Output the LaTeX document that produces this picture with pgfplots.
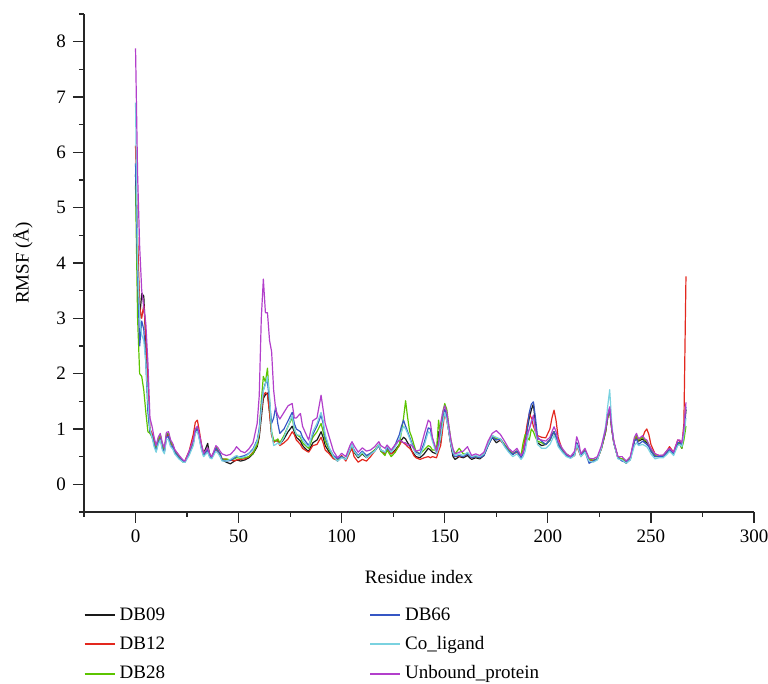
\documentclass[border=0pt]{standalone}
\usepackage{fontspec}
\setmainfont{Liberation Serif}
\usepackage{pgfplots}
\usepackage{pgfplotstable}
\pgfplotsset{compat=1.18}
\definecolor{dbblack}{HTML}{1A1A1A}
\definecolor{dbred}{HTML}{E3281E}
\definecolor{dbgreen}{HTML}{5CC400}
\definecolor{dbblue}{HTML}{3556C4}
\definecolor{dbcyan}{HTML}{7AD2E0}
\definecolor{dbpurple}{HTML}{B23FCB}
\pgfplotstableread{
x DB09 DB12 DB28 DB66 CoL Unb
0 5.6 6.12 5.4 5.8 6.9 7.88
1 4.2 4.5 3.0 3.8 4.0 5.6
2 3.0 3.2 2.0 2.5 3.0 4.3
3 3.45 3.0 1.95 2.95 2.7 3.5
4 3.4 3.25 1.7 2.8 2.6 3.2
5 2.6 2.7 1.3 2.2 2.2 2.9
6 1.5 1.8 0.95 1.3 1.5 2.2
7 0.95 1.0 0.92 0.95 1.0 1.2
8 0.9 0.92 0.85 0.88 0.85 1.05
9 0.75 0.78 0.75 0.72 0.68 0.85
10 0.62 0.65 0.65 0.6 0.58 0.7
11 0.8 0.82 0.8 0.75 0.72 0.85
12 0.88 0.86 0.9 0.82 0.8 0.92
13 0.68 0.7 0.72 0.65 0.62 0.75
14 0.6 0.62 0.62 0.58 0.55 0.66
15 0.88 0.86 0.92 0.85 0.82 0.94
16 0.9 0.88 0.92 0.86 0.8 0.95
17 0.75 0.74 0.78 0.7 0.68 0.8
18 0.72 0.7 0.7 0.68 0.64 0.74
19 0.6 0.62 0.6 0.58 0.55 0.63
21 0.5 0.52 0.5 0.48 0.46 0.53
23 0.42 0.42 0.4 0.42 0.4 0.44
24 0.41 0.43 0.41 0.4 0.4 0.42
26 0.58 0.6 0.57 0.55 0.52 0.6
28 0.78 0.9 0.75 0.72 0.7 0.8
29 0.98 1.12 0.98 0.95 0.92 1.0
30 1.02 1.16 1.02 1.0 0.96 1.05
31 0.85 0.95 0.85 0.82 0.8 0.9
32 0.68 0.72 0.66 0.64 0.62 0.72
33 0.55 0.56 0.52 0.52 0.5 0.56
35 0.74 0.62 0.65 0.62 0.58 0.66
36 0.52 0.55 0.5 0.5 0.48 0.55
37 0.5 0.5 0.48 0.48 0.46 0.5
39 0.66 0.62 0.68 0.65 0.6 0.7
40 0.6 0.58 0.62 0.6 0.56 0.66
41 0.52 0.55 0.55 0.56 0.5 0.6
42 0.44 0.46 0.45 0.44 0.42 0.55
44 0.4 0.45 0.46 0.42 0.42 0.52
46 0.37 0.44 0.44 0.43 0.45 0.54
48 0.42 0.42 0.46 0.48 0.5 0.62
49 0.44 0.44 0.48 0.5 0.52 0.68
51 0.42 0.45 0.47 0.5 0.48 0.6
53 0.44 0.46 0.48 0.52 0.5 0.57
55 0.48 0.5 0.5 0.56 0.55 0.64
57 0.55 0.58 0.56 0.64 0.62 0.75
59 0.68 0.72 0.72 0.8 0.78 1.1
60 0.85 0.9 0.95 1.0 0.95 1.6
61 1.2 1.3 1.5 1.4 1.35 3.0
62 1.55 1.6 1.95 1.7 1.7 3.71
63 1.62 1.66 1.85 1.83 1.8 3.1
64 1.65 1.62 2.1 1.85 1.95 3.1
65 1.3 1.3 1.5 1.5 1.6 2.6
66 0.9 0.9 0.95 1.1 0.95 2.4
67 0.78 0.75 0.8 1.2 0.7 1.7
68 0.78 0.8 0.78 1.4 0.72 1.35
69 0.8 0.78 0.82 1.1 0.75 1.25
70 0.72 0.7 0.75 0.92 0.72 1.18
72 0.82 0.75 0.88 1.0 0.85 1.3
74 0.95 0.82 1.05 1.15 1.05 1.42
76 1.05 0.95 1.2 1.3 1.25 1.46
77 0.95 0.9 1.0 1.1 1.0 1.2
78 0.85 0.8 0.9 1.0 0.9 1.2
80 0.78 0.72 0.85 0.95 0.88 1.28
81 0.7 0.65 0.75 0.85 0.8 1.05
83 0.62 0.6 0.68 0.75 0.7 0.88
84 0.6 0.58 0.65 0.7 0.68 0.8
86 0.75 0.7 0.85 0.9 0.95 1.15
88 0.8 0.72 0.95 1.05 1.1 1.2
90 0.95 0.85 1.1 1.25 1.3 1.61
91 0.85 0.75 0.95 1.1 1.15 1.35
92 0.7 0.62 0.78 0.85 0.9 1.1
94 0.58 0.55 0.62 0.65 0.66 0.85
96 0.48 0.46 0.5 0.52 0.5 0.6
98 0.42 0.45 0.45 0.46 0.42 0.48
100 0.5 0.52 0.5 0.5 0.48 0.56
102 0.45 0.42 0.45 0.45 0.45 0.5
104 0.6 0.58 0.62 0.62 0.62 0.7
105 0.7 0.65 0.7 0.72 0.72 0.77
106 0.58 0.5 0.6 0.62 0.6 0.7
108 0.48 0.4 0.5 0.52 0.5 0.58
110 0.55 0.45 0.56 0.6 0.58 0.66
112 0.48 0.42 0.5 0.52 0.48 0.6
114 0.55 0.5 0.56 0.56 0.54 0.62
116 0.62 0.6 0.62 0.6 0.6 0.68
118 0.7 0.72 0.72 0.7 0.72 0.77
119 0.6 0.62 0.6 0.62 0.62 0.7
121 0.55 0.55 0.52 0.58 0.58 0.65
122 0.68 0.66 0.62 0.66 0.7 0.71
124 0.55 0.55 0.5 0.58 0.58 0.62
126 0.62 0.6 0.58 0.72 0.68 0.72
128 0.72 0.7 0.72 0.9 0.82 0.8
129 0.8 0.78 0.95 1.05 0.95 0.78
130 0.85 0.75 1.2 1.16 1.05 0.75
131 0.82 0.72 1.51 1.05 1.0 0.75
132 0.75 0.68 1.2 0.95 0.92 0.7
133 0.7 0.65 0.95 0.85 0.82 0.72
134 0.6 0.6 0.85 0.75 0.72 0.7
135 0.55 0.52 0.72 0.65 0.62 0.65
136 0.5 0.48 0.6 0.58 0.55 0.6
138 0.48 0.45 0.55 0.55 0.52 0.62
140 0.55 0.48 0.62 0.75 0.7 0.9
142 0.65 0.5 0.7 1.02 0.95 1.16
143 0.62 0.48 0.68 1.0 0.92 1.12
144 0.58 0.5 0.62 0.82 0.78 0.85
146 0.55 0.48 0.62 0.6 0.55 0.6
147 0.95 0.6 1.16 0.72 0.65 0.75
148 0.75 0.7 0.85 0.9 0.85 1.1
149 1.1 1.0 1.3 1.15 1.1 1.3
150 1.35 1.3 1.46 1.35 1.3 1.42
151 1.2 1.15 1.35 1.2 1.15 1.3
152 0.95 0.95 1.05 0.95 0.95 1.05
153 0.7 0.72 0.8 0.72 0.72 0.8
154 0.5 0.58 0.62 0.55 0.58 0.64
155 0.45 0.5 0.55 0.5 0.52 0.55
157 0.5 0.5 0.65 0.52 0.55 0.58
159 0.48 0.5 0.55 0.5 0.52 0.6
161 0.52 0.55 0.55 0.55 0.58 0.68
163 0.45 0.48 0.5 0.48 0.5 0.52
165 0.48 0.5 0.5 0.5 0.52 0.55
167 0.46 0.48 0.48 0.48 0.5 0.52
169 0.52 0.55 0.55 0.52 0.55 0.58
171 0.7 0.72 0.72 0.7 0.72 0.78
173 0.85 0.88 0.88 0.85 0.88 0.92
175 0.75 0.82 0.82 0.8 0.85 0.97
177 0.8 0.8 0.82 0.82 0.82 0.9
179 0.7 0.7 0.72 0.7 0.68 0.78
181 0.6 0.62 0.62 0.6 0.58 0.65
183 0.54 0.55 0.56 0.54 0.5 0.58
185 0.6 0.58 0.6 0.6 0.55 0.65
187 0.5 0.5 0.52 0.48 0.45 0.52
188 0.55 0.62 0.75 0.55 0.5 0.58
189 0.8 0.85 0.9 0.7 0.6 0.75
190 1.0 1.1 0.85 1.0 0.8 0.9
191 1.2 1.28 0.8 1.3 1.0 1.0
192 1.35 1.2 1.0 1.45 1.15 1.12
193 1.45 1.05 0.95 1.49 1.2 1.25
194 1.1 0.95 0.85 1.2 0.95 1.0
195 0.75 0.88 0.78 0.85 0.72 0.82
197 0.7 0.85 0.75 0.78 0.65 0.8
199 0.72 0.84 0.72 0.72 0.65 0.78
201 0.8 1.0 0.8 0.8 0.72 0.85
202 0.9 1.2 0.88 0.88 0.8 0.95
203 0.95 1.34 0.95 0.95 0.88 1.04
204 0.85 1.15 0.85 0.85 0.8 0.95
205 0.72 0.85 0.75 0.72 0.68 0.78
207 0.6 0.62 0.62 0.6 0.58 0.65
209 0.52 0.52 0.55 0.52 0.5 0.55
211 0.48 0.48 0.5 0.48 0.47 0.5
213 0.55 0.52 0.55 0.55 0.52 0.6
214 0.75 0.7 0.72 0.75 0.72 0.86
215 0.65 0.6 0.62 0.65 0.62 0.75
216 0.52 0.5 0.52 0.52 0.5 0.55
218 0.62 0.6 0.62 0.6 0.58 0.65
220 0.45 0.45 0.45 0.38 0.42 0.47
222 0.42 0.42 0.44 0.42 0.4 0.46
224 0.45 0.46 0.46 0.46 0.44 0.5
226 0.65 0.65 0.65 0.66 0.66 0.7
228 0.95 0.95 0.95 0.98 1.05 1.0
229 1.2 1.2 1.2 1.22 1.4 1.25
230 1.35 1.35 1.35 1.38 1.71 1.4
231 1.0 1.0 1.0 1.02 1.1 1.02
232 0.75 0.75 0.75 0.75 0.75 0.78
234 0.48 0.48 0.48 0.48 0.46 0.5
236 0.45 0.46 0.46 0.42 0.44 0.5
238 0.38 0.42 0.4 0.4 0.38 0.42
240 0.45 0.48 0.48 0.45 0.44 0.5
242 0.78 0.8 0.82 0.78 0.7 0.85
243 0.85 0.85 0.88 0.82 0.75 0.92
244 0.78 0.8 0.8 0.72 0.7 0.82
246 0.82 0.85 0.85 0.78 0.72 0.88
247 0.78 0.95 0.8 0.75 0.7 0.82
248 0.75 1.0 0.78 0.72 0.68 0.8
249 0.7 0.9 0.72 0.68 0.62 0.72
250 0.6 0.72 0.62 0.6 0.55 0.65
252 0.5 0.55 0.52 0.5 0.46 0.55
254 0.5 0.52 0.5 0.5 0.48 0.52
256 0.5 0.52 0.52 0.5 0.48 0.53
258 0.58 0.62 0.6 0.58 0.55 0.62
259 0.62 0.68 0.6 0.62 0.6 0.65
261 0.55 0.58 0.55 0.55 0.52 0.58
263 0.72 0.8 0.75 0.75 0.7 0.8
264 0.75 0.78 0.72 0.76 0.72 0.8
265 0.65 0.7 0.65 0.7 0.68 0.75
266 0.9 1.1 0.8 0.95 0.9 1.0
267 1.35 3.76 1.05 1.4 1.2 1.48
}\rmsf
\begin{document}
\begin{tikzpicture}
\begin{axis}[
  name=ax,
  scale only axis,
  width=335pt, height=249pt,
  xmin=-25, xmax=300, ymin=-0.5, ymax=8.5,
  axis x line=bottom, axis y line=left,
  axis line style={-, line width=0.7pt, black!85},
  xtick={0,50,...,300}, minor xtick={-25,25,75,125,175,225,275},
  ytick={0,1,...,8}, minor ytick={-0.5,0.5,1.5,2.5,3.5,4.5,5.5,6.5,7.5,8.5},
  tick align=outside,
  major tick length=5.5pt, minor tick length=2.5pt,
  tick style={line width=0.6pt, black!85},
  /pgf/number format/assume math mode=true,
  font=\fontsize{9.5pt}{11pt}\selectfont,
  tick label style={font=\fontsize{9.5pt}{11pt}\selectfont},
  xlabel={Residue index}, ylabel={RMSF (Å)},
  xlabel style={font=\fontsize{9.5pt}{11pt}\selectfont, yshift=-7pt},
  ylabel style={font=\fontsize{9.5pt}{11pt}\selectfont, yshift=5pt},
  legend columns=2,
  legend cell align=left,
  legend style={draw=none, fill=none, at={(axis description cs:-0.01,-0.175)}, anchor=north west,
    font=\fontsize{9.5pt}{11pt}\selectfont, row sep=2.6pt,
    /tikz/every even column/.append style={column sep=100pt}},
  legend image code/.code={\draw[#1] (0pt,0pt) -- (15pt,0pt);},
  every axis plot/.append style={line width=0.6pt, line join=round},
]
\addplot[color=dbblack, forget plot] table[x=x,y=DB09] {\rmsf};
\addplot[color=dbred, forget plot] table[x=x,y=DB12] {\rmsf};
\addplot[color=dbgreen, forget plot] table[x=x,y=DB28] {\rmsf};
\addplot[color=dbblue, forget plot] table[x=x,y=DB66] {\rmsf};
\addplot[color=dbcyan, forget plot] table[x=x,y=CoL] {\rmsf};
\addplot[color=dbpurple, forget plot] table[x=x,y=Unb] {\rmsf};
\addlegendimage{color=dbblack, line width=1pt}
\addlegendentry{DB09}
\addlegendimage{color=dbblue, line width=1pt}
\addlegendentry{DB66}
\addlegendimage{color=dbred, line width=1pt}
\addlegendentry{DB12}
\addlegendimage{color=dbcyan, line width=1pt}
\addlegendentry{Co\_ligand}
\addlegendimage{color=dbgreen, line width=1pt}
\addlegendentry{DB28}
\addlegendimage{color=dbpurple, line width=1pt}
\addlegendentry{Unbound\_protein}
\end{axis}
\pgfresetboundingbox
\path[use as bounding box] ([xshift=-42pt,yshift=-86pt]ax.south west) rectangle ([xshift=7pt,yshift=7pt]ax.north east);
\end{tikzpicture}
\end{document}
